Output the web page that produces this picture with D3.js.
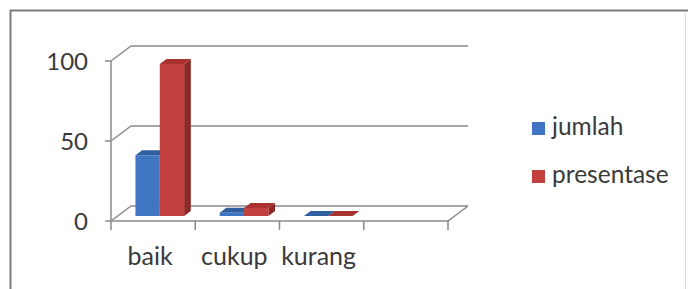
<!DOCTYPE html>
<html>
<head>
<meta charset="utf-8">
<script src="https://cdn.jsdelivr.net/npm/d3@7"></script>
<style>
  body { margin: 0; background: #fff; }
  svg { display: block; }
  text { font-family: Lato, "Open Sans", sans-serif; fill: #3a3a3a; }
</style>
</head>
<body>
<svg id="chart" width="688" height="289"></svg>
<script>
// data
var categories = ["baik", "cukup", "kurang", ""];
var series = ["jumlah", "presentase"];
var jumlah = [38, 2, 0];
var presentase = [95, 5, 0];
var yTicks = [0, 50, 100];

var colors = {
    jumlah: { front: "#3f75c2", top: "#2f5f9f", side: "#2a548c" },
    presentase: { front: "#c2413e", top: "#a8322f", side: "#8c2826" }
};

var svg = d3.select("#chart");

// frame
svg.append("path")
    .attr("d", "M10.5,300 L10.5,10.5 L688,10.5")
    .style("fill", "none")
    .style("stroke", "#7b7b7b")
    .style("stroke-width", 2);
svg.append("line")
    .attr("x1", 685.5).attr("y1", 14).attr("x2", 685.5).attr("y2", 289)
    .style("stroke", "#d8d8d8");

// 3d layout
var originX = 111,
    originY = 221,
    depthX = 20,
    depthY = -15;

var x = d3.scaleBand()
    .domain(categories)
    .range([0, 337]);

var xs = d3.scaleBand()
    .domain(series)
    .range([0, x.bandwidth()])
    .paddingOuter(0.73);

var y = d3.scaleLinear()
    .domain([0, 100])
    .range([0, 160]);

function pt(px, v, d) {
    return [originX + px + depthX * d, originY - y(v) + depthY * d];
}

function poly(points) {
    return "M" + points.map(function (p) { return p.join(","); }).join("L") + "Z";
}

var grid = svg.append("g")
    .style("fill", "none")
    .style("stroke", "#8a8a8a")
    .style("stroke-width", 1.5);

// back wall gridlines and side wall diagonals
yTicks.forEach(function (t) {
    var a = pt(0, t, 0), b = pt(0, t, 1), c = pt(x.range()[1], t, 1);
    grid.append("path").attr("d", "M" + a + "L" + b + "L" + c);
});

// floor front edge and right edge
var f0 = pt(0, 0, 0), f1 = pt(x.range()[1], 0, 0), f2 = pt(x.range()[1], 0, 1);
grid.append("path").attr("d", "M" + f0 + "L" + f1 + "L" + f2);

// value axis
grid.append("path").attr("d", "M" + pt(0, 0, 0) + "L" + pt(0, 100, 0));
yTicks.forEach(function (t) {
    var p = pt(0, t, 0);
    grid.append("path").attr("d", "M" + (p[0] - 6) + "," + p[1] + "L" + p[0] + "," + p[1]);
    svg.append("text")
        .attr("x", p[0] - 23)
        .attr("y", p[1] + 9)
        .attr("text-anchor", "end")
        .style("font-size", "24px")
        .text(t);
});

// category ticks
var bounds = categories.map(function (c) { return x(c); }).concat([x.range()[1]]);
bounds.forEach(function (b) {
    var p = pt(b, 0, 0);
    grid.append("path").attr("d", "M" + p[0] + "," + p[1] + "L" + p[0] + "," + (p[1] + 9));
});

categories.forEach(function (c) {
    var p = pt(x(c) + x.bandwidth() / 2, 0, 0);
    svg.append("text")
        .attr("x", p[0] - 3)
        .attr("y", 265)
        .attr("text-anchor", "middle")
        .style("font-size", "25px")
        .text(c);
});

// bars
var values = { jumlah: jumlah, presentase: presentase };
var d0 = 1 / 3, d1 = 2 / 3;

var bars = svg.append("g");
categories.forEach(function (c, i) {
    series.forEach(function (s) {
        var v = values[s][i];
        if (v === undefined) return;
        var xl = x(c) + xs(s), xr = xl + xs.bandwidth();
        var col = colors[s];
        // side face
        bars.append("path")
            .attr("d", poly([pt(xr, 0, d0), pt(xr, v, d0), pt(xr, v, d1), pt(xr, 0, d1)]))
            .style("fill", col.side);
        // top face
        bars.append("path")
            .attr("d", poly([pt(xl, v, d0), pt(xr, v, d0), pt(xr, v, d1), pt(xl, v, d1)]))
            .style("fill", col.top);
        // front face
        if (v > 0) {
            bars.append("path")
                .attr("d", poly([pt(xl, 0, d0), pt(xr, 0, d0), pt(xr, v, d0), pt(xl, v, d0)]))
                .style("fill", col.front);
        }
    });
});

// legend
var legend = svg.append("g");
series.forEach(function (s, i) {
    var ly = 122 + i * 48;
    legend.append("rect")
        .attr("x", 532)
        .attr("y", ly)
        .attr("width", 13)
        .attr("height", 13)
        .style("fill", colors[s].front);
    legend.append("text")
        .attr("x", 552)
        .attr("y", ly + 13)
        .style("font-size", "24.5px")
        .text(s);
});
</script>
</body>
</html>
